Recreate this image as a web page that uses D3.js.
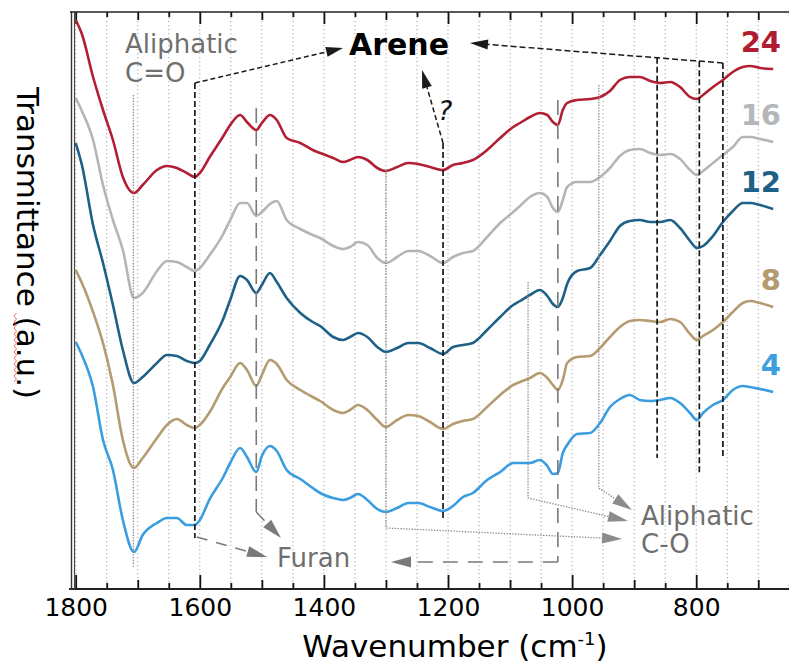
<!DOCTYPE html>
<html><head><meta charset="utf-8">
<script src="https://cdn.jsdelivr.net/npm/d3@7"></script>
<style>body{margin:0;background:#fff}svg{display:block}</style>
</head><body><svg id="c" width="789" height="665"></svg>
<script>
// ---- data (wavenumber in cm-1, transmittance in arbitrary units) ----
const wavenumbers = [1800,1790,1772,1756,1740,1724,1706,1692,1669,1653,1637,1621,1608,1600,1584,1563,1551,1535,1524,1509,1500,1487,1476,1460,1438,1418,1406,1385,1369,1358,1345,1330,1314,1300,1282,1264,1248,1229,1208,1192,1176,1160,1137,1116,1095,1084,1068,1052,1040,1031,1023,1015,1008,992,971,955,939,923,907,891,874,858,842,826,810,799,789,773,757,741,725,713,697,676];
const t24 = [569,555,512,479,449,412,396,404,419,423,421,416,412,416,432,452,464,474,467,459,466,474,469,451,446,439,436,431,427,429,432,429,421,418,422,426,425,422,419,424,426,429,439,451,462,466,472,476,474,467,464,479,486,489,490,492,498,509,512,512,508,506,507,502,492,490,494,502,509,517,522,523,521,520];
const t16 = [491,478,449,404,369,339,291,296,318,328,327,322,318,321,334,354,369,386,386,373,377,385,388,369,360,354,351,343,340,342,347,344,331,326,332,338,338,333,326,332,336,338,352,366,377,383,392,396,392,381,377,389,402,407,407,412,421,433,439,440,436,434,435,430,419,414,418,426,434,442,452,452,450,447];
const t12 = [446,424,364,326,284,239,206,212,226,234,233,228,226,228,244,269,289,313,309,296,304,316,307,291,276,267,263,252,249,252,256,252,242,237,241,246,246,241,235,242,244,246,259,272,284,288,294,299,293,285,282,291,305,318,321,334,348,363,368,369,367,367,369,361,348,341,343,353,367,378,386,386,384,380];
const t8 = [319,306,277,246,204,149,121,131,151,164,170,164,161,164,177,201,212,226,219,203,214,229,225,209,199,192,188,179,176,179,184,179,169,162,169,174,173,167,160,165,168,170,182,194,204,207,211,216,211,204,199,209,226,232,233,241,252,262,268,269,268,267,270,267,255,249,253,259,267,277,286,288,286,282];
const t4 = [247,234,202,149,119,69,37,54,66,71,71,64,64,69,90,111,126,141,132,117,133,143,138,119,110,101,96,91,89,91,95,89,80,77,81,86,86,82,78,83,92,96,109,117,126,126,126,129,123,115,116,136,144,155,156,166,182,190,194,189,188,189,191,186,176,169,176,184,189,199,203,202,200,197];
const seriesNames = ["24","16","12","8","4"];
const xTickLabels = [1800,1600,1400,1200,1000,800];
const bandPositions = {co: 1707, arene1: 1608, furan1: 1509, ali1: 1300, arene2: 1208, ali2: 1071, furan2: 1023, ali3: 957, arene3: 863, arene4: 795, arene5: 757};

// ---- styles ----
const seriesValues = [t24, t16, t12, t8, t4];
const seriesColors = ["#b21f33", "#b3b6b9", "#1d6187", "#b49b70", "#3a9de0"];
const labelColors = ["#b01c30", "#b4b7ba", "#1e5f86", "#b59a6f", "#3b9fe0"];

const svg = d3.select("#c");
svg.append("rect").attr("width",789).attr("height",665).attr("fill","#fff");
const x = d3.scaleLinear().domain([1800, 650]).range([75.7, 789.3]);
const y = d3.scaleLinear().domain([0, 577]).range([589, 12]);
const FONT = "'DejaVu Sans', Verdana, sans-serif";

// gridlines
const gridVals = d3.range(1800, 690, -50);
svg.append("g").selectAll("line").data(gridVals).join("line")
  .attr("x1", d => x(d)).attr("x2", d => x(d)).attr("y1", 13).attr("y2", 588)
  .attr("stroke", "#a8a8a8").attr("stroke-width", 1).attr("stroke-dasharray", "1.3,2.7");

// axes
const all50 = d3.range(1800, 640, -50);
const t200 = all50.filter(d => xTickLabels.includes(d) || d % 200 === 0);
const t100 = all50.filter(d => d % 100 === 0 && d % 200 !== 0);
const t50 = all50.filter(d => d % 100 !== 0);
function addAxis(gen, vals, size, ty, labels) {
  const g = svg.append("g").attr("transform", `translate(0,${ty})`)
    .call(gen(x).tickValues(vals).tickSize(size).tickPadding(9)
      .tickFormat(d => labels && xTickLabels.includes(d) ? String(d) : ""));
  g.select(".domain").remove();
  g.selectAll(".tick line").attr("stroke", "#111").attr("stroke-width", 1.8);
  g.selectAll(".tick text").attr("font-family", FONT).attr("font-size", 25).attr("fill", "#000");
  return g;
}
addAxis(d3.axisBottom, t200, -14, 589, true);
addAxis(d3.axisBottom, t100, -9, 589, false);
addAxis(d3.axisBottom, t50, -6, 589, false);
addAxis(d3.axisTop, t200, -12, 12, false);
addAxis(d3.axisTop, t100, -8, 12, false);
addAxis(d3.axisTop, t50, -5, 12, false);
svg.append("line").attr("x1", 69).attr("x2", 789).attr("y1", 589).attr("y2", 589).attr("stroke", "#222").attr("stroke-width", 2);
svg.append("line").attr("x1", 70).attr("x2", 789).attr("y1", 12).attr("y2", 12).attr("stroke", "#222").attr("stroke-width", 1.6);
svg.append("line").attr("x1", 71.5).attr("x2", 71.5).attr("y1", 11).attr("y2", 590).attr("stroke", "#333").attr("stroke-width", 1.4);
svg.append("line").attr("x1", 74.5).attr("x2", 74.5).attr("y1", 11).attr("y2", 590).attr("stroke", "#444").attr("stroke-width", 1.1);

// axis titles
const xt = svg.append("text").attr("x", 455).attr("y", 657).attr("text-anchor", "middle")
  .attr("font-family", FONT).attr("font-size", 31).attr("fill", "#000");
xt.append("tspan").text("Wavenumber (cm");
xt.append("tspan").attr("font-size", 18).attr("dy", -12).text("-1");
xt.append("tspan").attr("dy", 12).text(")");
svg.append("text").attr("transform", "translate(17,243) rotate(90)").attr("text-anchor", "middle")
  .attr("font-family", FONT).attr("font-size", 31).attr("fill", "#000").text("Transmittance (a.u.)");
svg.append("path").attr("d", d3.range(313, 384, 3).map((v, i) => (i ? "L" : "M") + (i % 2 ? 14 : 16.5) + "," + v).join(""))
  .attr("fill", "none").attr("stroke", "#e05050").attr("stroke-width", 0.8);

// series
const line = d3.line().x((d, i) => x(wavenumbers[i])).y(d => y(d)).curve(d3.curveMonotoneX);
seriesValues.forEach((vals, k) => {
  svg.append("path").datum(vals).attr("d", line).attr("fill", "none")
    .attr("stroke", seriesColors[k]).attr("stroke-width", 2.6).attr("stroke-linejoin", "round");
  svg.append("text").attr("x", 781).attr("y", y(vals[vals.length - 1]) - 17).attr("text-anchor", "end")
    .attr("font-family", FONT).attr("font-weight", "bold").attr("font-size", 29)
    .attr("fill", labelColors[k]).text(seriesNames[k]);
});

// annotations
const ann = svg.append("g");
const pl = d3.line();
function seg(pts, color, dash, w) {
  ann.append("path").attr("d", pl(pts)).attr("fill", "none").attr("stroke", color)
    .attr("stroke-width", w).attr("stroke-dasharray", dash);
}
function arrow(pts, color, dash, w, L, Wd) {
  const [x1, y1] = pts[pts.length - 2], [x2, y2] = pts[pts.length - 1];
  const a = Math.atan2(y2 - y1, x2 - x1);
  const bx = x2 - L * Math.cos(a), by = y2 - L * Math.sin(a);
  const px = -Math.sin(a) * Wd / 2, py = Math.cos(a) * Wd / 2;
  const p2 = pts.slice(0, -1).concat([[bx, by]]);
  seg(p2, color, dash, w);
  ann.append("path").attr("d", `M${x2},${y2}L${bx + px},${by + py}L${bx - px},${by - py}Z`).attr("fill", color);
}
const BK = "#1a1a1a", GR = "#7a7a7a", DT = "#8c8c8c";
const X = w => x(bandPositions[w]);
// C=O
seg([[X("co"), 95], [X("co"), 568]], DT, "1.4,1.4", 1.3);
// arene
seg([[X("arene1"), 83], [X("arene1"), 538]], BK, "6,3", 1.7);
arrow([[X("arene1"), 83], [343, 48]], BK, "5,3", 1.5, 17, 10);
seg([[X("arene2"), 143], [X("arene2"), 520]], BK, "6,3", 1.7);
arrow([[X("arene2"), 143], [422, 70]], BK, "5,3", 1.5, 18, 10);
const lineY = xx => 43 + (xx - 470) * (63 - 43) / (X("arene5") - 470);
arrow([[X("arene5"), 63], [470, 43]], BK, "6,3", 1.5, 18, 10);
[["arene3", 458], ["arene4", 473], ["arene5", 458]].forEach(([k, yb]) =>
  seg([[X(k), lineY(X(k))], [X(k), yb]], BK, "6,3", 1.7));
// furan
arrow([[X("arene1") + 2, 537], [267, 557]], GR, "11,9", 1.6, 20, 11);
seg([[X("furan1"), 108], [X("furan1"), 512]], GR, "15,8", 1.6);
arrow([[X("furan1"), 512], [281, 538]], GR, "12,6", 1.6, 20, 11);
seg([[X("furan2"), 100], [X("furan2"), 562]], GR, "15,9", 1.6);
arrow([[X("furan2"), 562], [391, 562]], GR, "15,10", 1.6, 20, 11);
// aliphatic C-O
arrow([[X("ali1"), 170], [X("ali1"), 528], [622, 539]], DT, "1.4,1.4", 1.3, 20, 11);
arrow([[X("ali2"), 282], [X("ali2"), 498], [628, 521]], DT, "1.4,1.4", 1.3, 20, 11);
arrow([[X("ali3"), 85], [X("ali3"), 488], [632, 510]], DT, "1.4,1.4", 1.3, 20, 11);

// annotation texts
function label(txt, xx, yy, opts) {
  const t = ann.append("text").attr("x", xx).attr("y", yy).attr("font-family", FONT)
    .attr("font-size", opts.size).attr("fill", opts.color).text(txt);
  if (opts.bold) t.attr("font-weight", "bold");
  if (opts.italic) t.attr("font-style", "italic");
}
label("Aliphatic", 125, 53, {size: 26, color: "#6f6f6f"});
label("C=O", 125, 82, {size: 26, color: "#6f6f6f"});
label("Arene", 349, 55, {size: 30, color: "#000", bold: true});
label("?", 438, 120, {size: 27, color: "#111", italic: true});
label("Furan", 277, 567, {size: 26, color: "#6f6f6f"});
label("Aliphatic", 641, 525, {size: 26, color: "#6f6f6f"});
label("C-O", 641, 553, {size: 26, color: "#6f6f6f"});
</script></body></html>
